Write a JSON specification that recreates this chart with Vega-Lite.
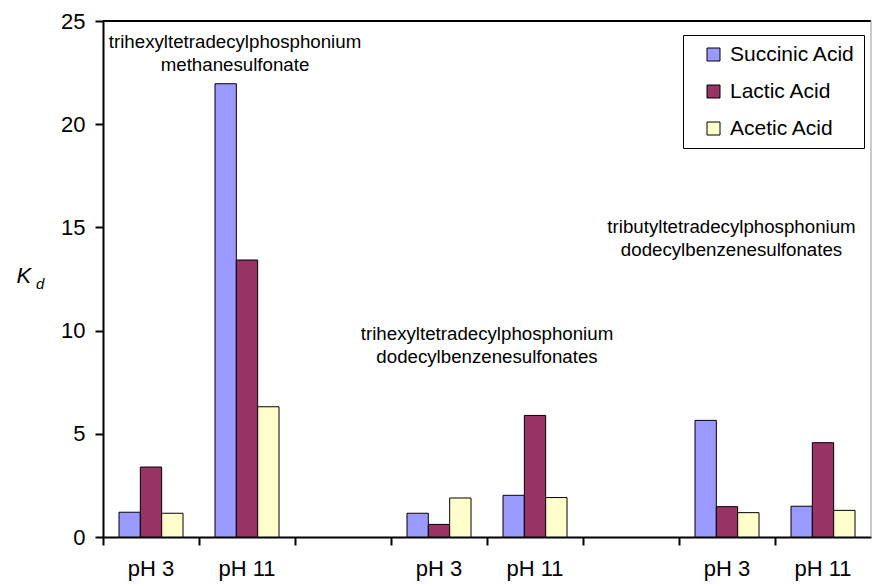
{
  "$schema": "https://vega.github.io/schema/vega-lite/v6.json",
  "width": 768,
  "height": 516,
  "autosize": {"type": "none"},
  "padding": {"left": 103, "top": 21, "right": 1, "bottom": 47},
  "background": "white",
  "config": {"font": "Liberation Sans", "view": {"stroke": null}},
  "layer": [
    {
      "data": {
        "values": [
          {"cat": "1|pH 3", "acid": "Succinic Acid", "kd": 1.2},
          {"cat": "1|pH 3", "acid": "Lactic Acid", "kd": 3.39},
          {"cat": "1|pH 3", "acid": "Acetic Acid", "kd": 1.15},
          {"cat": "1|pH 11", "acid": "Succinic Acid", "kd": 21.96},
          {"cat": "1|pH 11", "acid": "Lactic Acid", "kd": 13.42},
          {"cat": "1|pH 11", "acid": "Acetic Acid", "kd": 6.31},
          {"cat": "2|pH 3", "acid": "Succinic Acid", "kd": 1.15},
          {"cat": "2|pH 3", "acid": "Lactic Acid", "kd": 0.61},
          {"cat": "2|pH 3", "acid": "Acetic Acid", "kd": 1.89},
          {"cat": "2|pH 11", "acid": "Succinic Acid", "kd": 2.02},
          {"cat": "2|pH 11", "acid": "Lactic Acid", "kd": 5.89},
          {"cat": "2|pH 11", "acid": "Acetic Acid", "kd": 1.91},
          {"cat": "3|pH 3", "acid": "Succinic Acid", "kd": 5.65},
          {"cat": "3|pH 3", "acid": "Lactic Acid", "kd": 1.47},
          {"cat": "3|pH 3", "acid": "Acetic Acid", "kd": 1.18},
          {"cat": "3|pH 11", "acid": "Succinic Acid", "kd": 1.49},
          {"cat": "3|pH 11", "acid": "Lactic Acid", "kd": 4.57},
          {"cat": "3|pH 11", "acid": "Acetic Acid", "kd": 1.29}
        ]
      },
      "mark": {"type": "bar", "stroke": "black", "strokeWidth": 1},
      "encoding": {
        "x": {
          "field": "cat",
          "type": "nominal",
          "scale": {
            "domain": ["1|pH 3", "1|pH 11", "gap1", "2|pH 3", "2|pH 11", "gap2", "3|pH 3", "3|pH 11"],
            "paddingInner": 0,
            "paddingOuter": 0
          },
          "axis": {
            "title": null,
            "bandPosition": 0,
            "labelOffset": 0,
            "labelAngle": 0,
            "labelExpr": "indexof(datum.value, '|') >= 0 ? split(datum.value, '|')[1] : ''",
            "labelFontSize": 22,
            "labelColor": "black",
            "labelPadding": 13,
            "tickColor": "black",
            "tickSize": 8,
            "tickWidth": 2,
            "domainColor": "black",
            "domainWidth": 2
          }
        },
        "xOffset": {
          "field": "acid",
          "type": "nominal",
          "scale": {
            "domain": ["Succinic Acid", "Lactic Acid", "Acetic Acid"],
            "paddingInner": 0,
            "paddingOuter": 0.75
          }
        },
        "y": {
          "field": "kd",
          "type": "quantitative",
          "scale": {"domain": [0, 25], "nice": false},
          "axis": {
            "values": [0, 5, 10, 15, 20, 25],
            "grid": false,
            "labelFontSize": 22,
            "labelColor": "black",
            "labelPadding": 10,
            "tickColor": "black",
            "tickSize": 8,
            "tickWidth": 2,
            "domainColor": "black",
            "domainWidth": 2,
            "title": "K",
            "titleFontStyle": "italic",
            "titleFontWeight": "normal",
            "titleFontSize": 22,
            "titleColor": "black",
            "titleAngle": 0,
            "titleAlign": "left",
            "titleBaseline": "alphabetic",
            "titleX": -87,
            "titleY": 261
          }
        },
        "color": {
          "field": "acid",
          "type": "nominal",
          "scale": {
            "domain": ["Succinic Acid", "Lactic Acid", "Acetic Acid"],
            "range": ["#9999FF", "#993366", "#FFFFCC"]
          },
          "legend": {
            "title": null,
            "orient": "none",
            "legendX": 580,
            "legendY": 14,
            "padding": 9,
            "strokeColor": "black",
            "fillColor": "white",
            "symbolType": "square",
            "symbolSize": 169,
            "symbolStrokeColor": "black",
            "symbolStrokeWidth": 1,
            "symbolOpacity": 1,
            "symbolOffset": 11,
            "labelFontSize": 21,
            "labelColor": "black",
            "labelOffset": 6,
            "labelLimit": 300,
            "rowPadding": 15
          }
        }
      }
    },
    {
      "data": {"values": [{"v": 25}]},
      "mark": {"type": "rule", "color": "black", "strokeWidth": 2},
      "encoding": {"y": {"field": "v", "type": "quantitative"}}
    },
    {
      "data": {"values": [{"c": "3|pH 11"}]},
      "mark": {"type": "rule", "color": "#999999", "strokeWidth": 1},
      "encoding": {"x": {"field": "c", "type": "nominal", "bandPosition": 1}}
    },
    {
      "data": {"values": [{"c": "1|pH 3", "v": 12.0, "t": "d"}]},
      "mark": {"type": "text", "fontSize": 15, "fontStyle": "italic", "align": "left", "baseline": "alphabetic", "dx": -67, "color": "black"},
      "encoding": {
        "x": {"field": "c", "type": "nominal", "bandPosition": 0},
        "y": {"field": "v", "type": "quantitative"},
        "text": {"field": "t"}
      }
    },
    {
      "data": {"values": [{"c": "1|pH 11", "v": 23.99}]},
      "mark": {"type": "text", "fontSize": 18.7, "lineHeight": 23, "align": "center", "baseline": "middle", "color": "black"},
      "encoding": {
        "x": {"field": "c", "type": "nominal", "bandPosition": 0.375},
        "y": {"field": "v", "type": "quantitative"},
        "text": {"value": ["trihexyltetradecylphosphonium", "methanesulfonate"]}
      }
    },
    {
      "data": {"values": [{"c": "2|pH 11", "v": 9.84}]},
      "mark": {"type": "text", "fontSize": 18.7, "lineHeight": 23, "align": "center", "baseline": "middle", "color": "black"},
      "encoding": {
        "x": {"field": "c", "type": "nominal", "bandPosition": 0},
        "y": {"field": "v", "type": "quantitative"},
        "text": {"value": ["trihexyltetradecylphosphonium", "dodecylbenzenesulfonates"]}
      }
    },
    {
      "data": {"values": [{"c": "3|pH 3", "v": 15.0}]},
      "mark": {"type": "text", "fontSize": 18.7, "lineHeight": 23, "align": "center", "baseline": "middle", "color": "black"},
      "encoding": {
        "x": {"field": "c", "type": "nominal", "bandPosition": 0.547},
        "y": {"field": "v", "type": "quantitative"},
        "text": {"value": ["tributyltetradecylphosphonium", "dodecylbenzenesulfonates"]}
      }
    }
  ]
}
